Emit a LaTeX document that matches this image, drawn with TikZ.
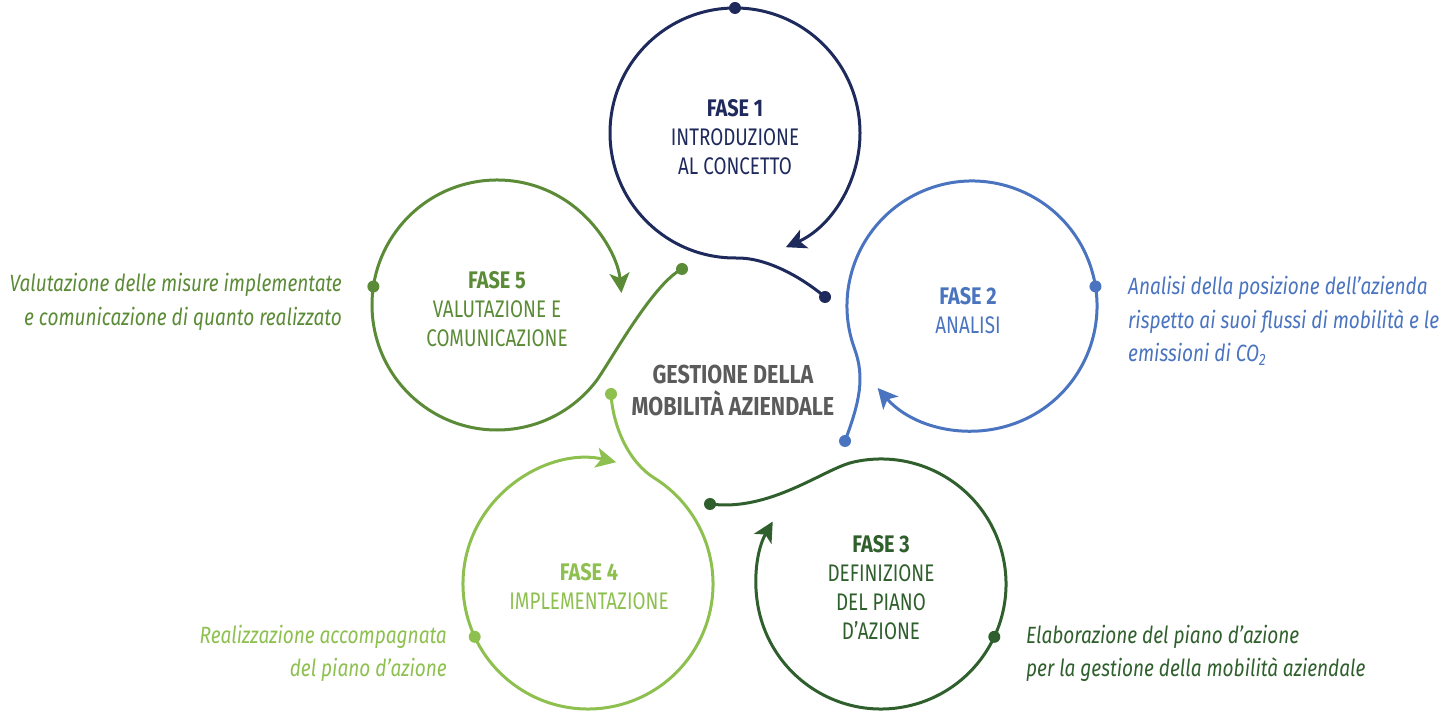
\documentclass[tikz,border=0pt]{standalone}
\usepackage{fontspec}
\setmainfont{Fira Sans}[
  FakeStretch=0.785,
  BoldFeatures={FakeStretch=0.83},
  ItalicFeatures={FakeStretch=0.81}]
\usetikzlibrary{arrows.meta,calc}

\definecolor{navy}{HTML}{1F2A5C}
\definecolor{azure}{HTML}{4A74BF}
\definecolor{forest}{HTML}{2F5F2C}
\definecolor{lime}{HTML}{8DC04F}
\definecolor{moss}{HTML}{5B8B36}
\definecolor{slate}{HTML}{5B5B5B}

\tikzset{
  loop/.style={line width=3pt, -{Stealth[length=20pt,width=20pt,inset=5pt]}},
  dotc/.style={circle, fill, inner sep=0pt, minimum size=12pt},
  lbl/.style={inner sep=0pt, align=center, font=\fontsize{24}{29}\selectfont},
  desc/.style={inner sep=0pt, font=\fontsize{23.5}{33.5}\selectfont\itshape},
  hub/.style={inner sep=0pt, align=center, text=slate, font=\fontsize{26}{32}\selectfont\bfseries}
}

\begin{document}
\begin{tikzpicture}[x=1pt, y=1pt]
\useasboundingbox (0,0) rectangle (1443,712);

% ---- Phase 1 ----
\coordinate (c1) at (735,579);
\node[dotc, navy] (in1) at (825,415) {};
\node[dotc, navy] (out1) at ($(c1)+(90:125)$) {};
\coordinate (j1) at ($(c1)+(270:125)$);
\draw[loop, navy] (in1.center) .. controls (800,436) and (765,455) .. (j1)
  arc[start angle=270, end angle=-66, radius=125];
\node[lbl, text=navy] (t1) at (735,575) {\textbf{FASE 1}\\INTRODUZIONE\\AL CONCETTO};

% ---- Phase 2 ----
\coordinate (c2) at (972,406);
\node[dotc, azure] (in2) at (845,271) {};
\node[dotc, azure] (out2) at ($(c2)+(9:125)$) {};
\coordinate (j2) at ($(c2)+(200:125)$);
\draw[loop, azure] (in2.center) .. controls (860,311) and (864.8,335) .. (j2)
  arc[start angle=200, end angle=-139, radius=125];
\node[lbl, text=azure] (t2) at (968,401.5) {\textbf{FASE 2}\\ANALISI};

% ---- Phase 3 ----
\coordinate (c3) at (881,128);
\node[dotc, forest] (in3) at (710,208) {};
\node[dotc, forest] (out3) at ($(c3)+(-25:125)$) {};
\coordinate (j3) at ($(c3)+(103:125)$);
\draw[loop, forest] (in3.center) .. controls (770,200) and (823.7,243) .. (j3)
  arc[start angle=103, end angle=-210, radius=125];
\node[lbl, text=forest] (t3) at (881,124.5) {\textbf{FASE 3}\\DEFINIZIONE\\DEL PIANO\\D’AZIONE};

% ---- Phase 4 ----
\coordinate (c4) at (588,128);
\node[dotc, lime] (in4) at (611,318) {};
\node[dotc, lime] (out4) at ($(c4)+(205:125)$) {};
\coordinate (j4) at ($(c4)+(58:125)$);
\draw[loop, lime] (in4.center) .. controls (613,285) and (628.8,249.9) .. (j4)
  arc[start angle=58, end angle=-283, radius=125];
\node[lbl, text=lime] (t4) at (589,125) {\textbf{FASE 4}\\IMPLEMENTAZIONE};

% ---- Phase 5 ----
\coordinate (c5) at (497,407);
\node[dotc, moss] (in5) at (682,443) {};
\node[dotc, moss] (out5) at ($(c5)+(171.5:125)$) {};
\coordinate (j5) at ($(c5)+(-38:125)$);
\draw[loop, moss] (in5.center) .. controls (652,428) and (607.8,345.8) .. (j5)
  arc[start angle=-38, end angle=-354.5, radius=125];
\node[lbl, text=moss] (t5) at (497,402.5) {\textbf{FASE 5}\\VALUTAZIONE E\\COMUNICAZIONE};

% ---- Centre ----
\node[hub] (hub) at (733,322) {GESTIONE DELLA\\MOBILITÀ AZIENDALE};

% ---- Descriptions ----
\node[desc, text=moss, align=right, anchor=east] (d5) at (342,410)
  {Valutazione delle misure implementate\\e comunicazione di quanto realizzato};
\node[desc, text=azure, align=left, anchor=west] (d2) at (1128,391)
  {Analisi della posizione dell’azienda\\rispetto ai suoi flussi di mobilità e le\\emissioni di CO\textsubscript{2}};
\node[desc, text=lime, align=right, anchor=east] (d4) at (447,58.5)
  {Realizzazione accompagnata\\del piano d’azione};
\node[desc, text=forest, align=left, anchor=west] (d3) at (1026,58.5)
  {Elaborazione del piano d’azione\\per la gestione della mobilità aziendale};
\end{tikzpicture}
\end{document}
